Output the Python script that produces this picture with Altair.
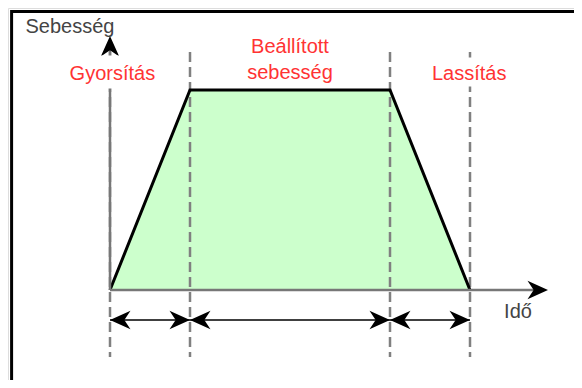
import altair as alt
import pandas as pd

# Motion profile: time (phase boundaries) and speed
phase_t = [0, 1, 3.5, 4.5]
profile_v = [0, 1, 1, 0]

# Dashed phase-boundary markers
marker_t = [0, 1, 3.5, 4.5]
marker_top = 1.19
marker_bottom = -0.335

# Duration arrows (start, end) at a level below the time axis
span_start = [0, 1, 3.5]
span_end = [1, 3.5, 4.5]
span_level = -0.15

# Axis extents
x_axis_end = 5.475
y_axis_end = 1.27

# Labels
label_text = ["Sebesség", "Gyorsítás", "Beállított", "sebesség", "Lassítás", "Idő"]
label_t = [-0.5, 0.03, 2.25, 2.25, 4.49, 5.1]
label_v = [1.285, 1.05, 1.185, 1.055, 1.05, -0.14]
label_kind = ["axis", "phase", "phase", "phase", "phase", "axis"]

X_DOM = [-1.275, 5.8]
Y_DOM = [-0.45, 1.41]
xs = alt.Scale(domain=X_DOM, nice=False, zero=False)
ys = alt.Scale(domain=Y_DOM, nice=False, zero=False)

def X(f="t"):
    return alt.X(f"{f}:Q", scale=xs, axis=None)

def Y(f="v"):
    return alt.Y(f"{f}:Q", scale=ys, axis=None)

profile = pd.DataFrame({"t": phase_t, "v": profile_v, "v0": [0] * len(phase_t), "o": list(range(len(phase_t)))})

# Frame around the figure (extends past the view, clipped)
frame = alt.Chart(pd.DataFrame({"t": [-1.23], "t2": [7.0], "v": [1.393], "v2": [-1.0]})).mark_rect(
    filled=False, stroke="black", strokeWidth=3, clip=True
).encode(x=X(), x2="t2:Q", y=Y(), y2="v2:Q")

fill = alt.Chart(profile).mark_area(fill="#CCFFCC", fillOpacity=1, stroke=None).encode(
    x=X(), y=Y(), y2="v0:Q"
)

markers = alt.Chart(pd.DataFrame({"t": marker_t, "v": [marker_top] * 4, "v2": [marker_bottom] * 4})).mark_rule(
    color="#808080", strokeWidth=2.5, strokeDash=[10, 5]
).encode(x=X(), y=Y(), y2="v2:Q")

outline = alt.Chart(profile).mark_line(color="black", strokeWidth=3, strokeJoin="miter").encode(
    x=X(), y=Y(), order="o:Q"
)

x_axis = alt.Chart(pd.DataFrame({"t": [0], "t2": [x_axis_end - 0.1], "v": [0]})).mark_rule(
    color="#777777", strokeWidth=2.5
).encode(x=X(), x2="t2:Q", y=Y())

y_axis = alt.Chart(pd.DataFrame({"t": [0], "v": [0], "v2": [y_axis_end - 0.05]})).mark_rule(
    color="#777777", strokeWidth=2.5
).encode(x=X(), y=Y(), y2="v2:Q")

spans = alt.Chart(pd.DataFrame({"t": span_start, "t2": span_end, "v": [span_level] * 3})).mark_rule(
    color="black", strokeWidth=1.5
).encode(x=X(), x2="t2:Q", y=Y())

RIGHT = "M0,0L-2,-0.9L-1.4,0L-2,0.9Z"
LEFT = "M0,0L2,-0.9L1.4,0L2,0.9Z"
UP = "M0,0L-0.9,2L0,1.4L0.9,2Z"
heads_t, heads_v, heads_s = [], [], []
for a, b in zip(span_start, span_end):
    heads_t += [a, b]
    heads_v += [span_level, span_level]
    heads_s += [LEFT, RIGHT]
heads_t += [x_axis_end, 0]
heads_v += [0, y_axis_end]
heads_s += [RIGHT, UP]
heads = alt.Chart(pd.DataFrame({"t": heads_t, "v": heads_v, "s": heads_s})).mark_point(
    filled=True, color="black", opacity=1, size=420, strokeWidth=0
).encode(x=X(), y=Y(), shape=alt.Shape("s:N", scale=None))

# White backing behind labels that sit on lines
BOX = "M-1,-0.36H1V0.36H-1Z"
boxes = alt.Chart(pd.DataFrame({"t": [label_t[1], label_t[4]], "v": [1.09, 1.09], "sz": [8464, 6400]})).mark_point(
    filled=True, color="white", opacity=1, shape=BOX, strokeWidth=0
).encode(x=X(), y=Y(), size=alt.Size("sz:Q", scale=None))

labels = pd.DataFrame({"text": label_text, "t": label_t, "v": label_v, "kind": label_kind})
text_layer = alt.Chart(labels).mark_text(
    font="Liberation Sans", fontSize=20, align="center", baseline="alphabetic"
).encode(
    x=X(), y=Y(), text="text:N",
    color=alt.Color("kind:N", scale=alt.Scale(domain=["axis", "phase"], range=["#444444", "#FF3333"]), legend=None),
)

chart = alt.layer(
    frame, fill, markers, outline, x_axis, y_axis, spans, heads, boxes, text_layer
).properties(
    width=566, height=372, padding=0, autosize=alt.AutoSizeParams(type="none")
).configure_view(stroke=None).configure(background="white")

chart.save("out.html", embed_options={"renderer": "svg", "actions": False})
